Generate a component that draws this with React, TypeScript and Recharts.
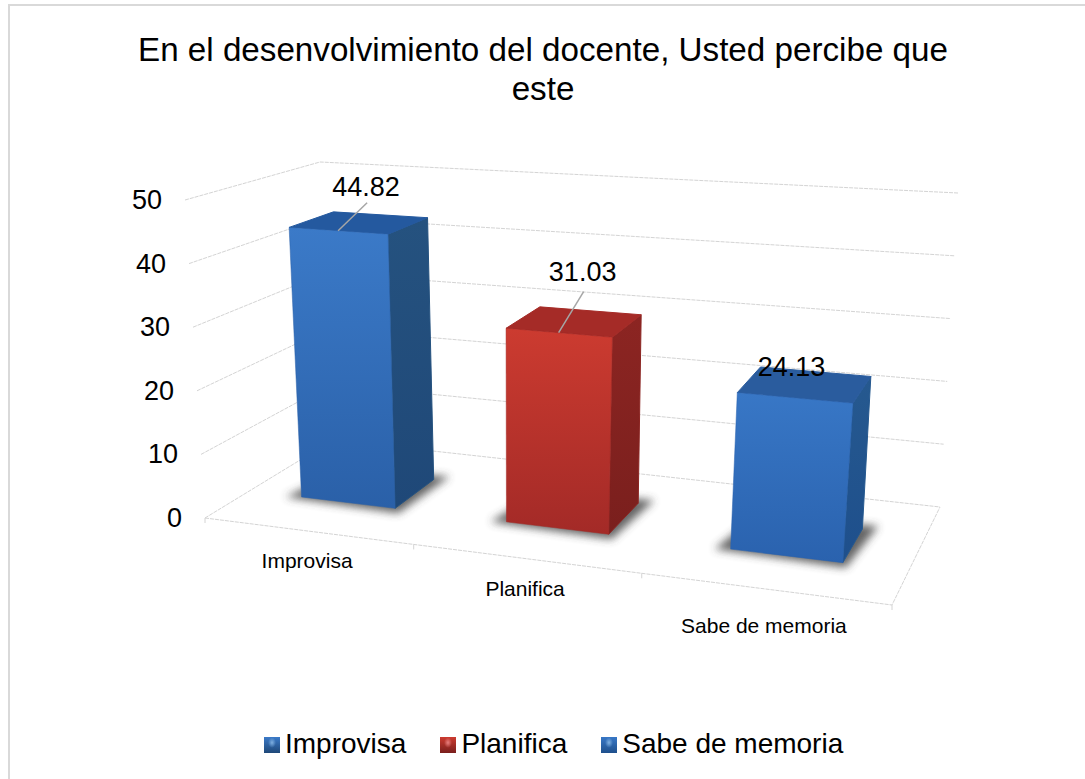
import React from 'react';
import { BarChart, Bar, XAxis, YAxis, CartesianGrid, Legend, LabelList } from 'recharts';

const categories = ['Improvisa', 'Planifica', 'Sabe de memoria'];
const values = [44.82, 31.03, 24.13];
const yTicks = [0, 10, 20, 30, 40, 50];
const titleLines = ['En el desenvolvimiento del docente, Usted percibe que', 'este'];

const chartData = categories.map((name, i) => ({ name, value: values[i] }));

const WIDTH = 1085;
const HEIGHT = 779;
const FONT = '"Liberation Sans", Arial, sans-serif';

// plot box handed to recharts
const PLOT_LEFT = 205;
const PLOT_RIGHT = 892;
const PLOT_TOP = 200;
const PLOT_BOTTOM = 518;
const PLOT_W = PLOT_RIGHT - PLOT_LEFT;
const PLOT_H = PLOT_BOTTOM - PLOT_TOP;
const Y_AXIS_W = 60;
const X_AXIS_H = 30;

// the excel "3d box", corners as seen on screen
const floor = { fl: [205, 518], fr: [892, 605], bl: [333, 440], br: [940, 507] };
const roof = { fl: [185, 200], fr: [922, 250], bl: [320, 162], br: [958, 193] };
const PERSPECTIVE = 1.146;
const BAR_FRONT = 0.35;
const BAR_BACK = 0.7;
const BAR_SQUASH = 0.98;

const palette = [
  { front: ['#3b7ac8', '#2a60a8'], side: ['#25527f', '#1f4878'], top: '#24599f' },
  { front: ['#cc3b30', '#a32a27'], side: ['#8c2522', '#7a1f1d'], top: '#a52b27' },
  { front: ['#3877c6', '#2a62ae'], side: ['#26598f', '#1e4f8c'], top: '#2a5c9e' },
];
const swatchGlow = ['#7fb0e0', '#e88080', '#7fb0e0'];

const labelOffsets = [[28, -44], [24, -61], [-3, -31]];
const leaderStart = [[1, 16], [1, 20], null];
const tickDrop = [30, 30, 37];

const lerp = (a: number, b: number, t: number) => a + (b - a) * t;

const corner = (c: any, u: number, d: number, n: number) =>
  lerp(lerp(c.fl[n], c.fr[n], u), lerp(c.bl[n], c.br[n], u), d);

// u, d, v are 0..1 across the categories, into the depth and up the value axis
const project = (u: number, d: number, v: number) => {
  const up = u / (u + PERSPECTIVE * (1 - u));
  return [
    lerp(corner(floor, up, d, 0), corner(roof, up, d, 0), v),
    lerp(corner(floor, up, d, 1), corner(roof, up, d, 1), v),
  ];
};

const pts = (list: number[][]) => list.map((p) => `${p[0]},${p[1]}`).join(' ');

const toU = (x: number) => (x - PLOT_LEFT) / PLOT_W;
const toV = (y: number) => (PLOT_BOTTOM - y) / PLOT_H;

const GRID = '#d4d4d4';

const WallLine = (props: any) => {
  const v = toV(props.y1);
  return (
    <polyline
      points={pts([project(0, 0, v), project(0, 1, v), project(1, 1, v)])}
      fill="none"
      stroke={GRID}
      strokeWidth={1}
      strokeDasharray="4 1"
    />
  );
};

const Box = (props: any) => {
  const { x, width, height, index } = props;
  const u0 = toU(x);
  const u1 = toU(x + width);
  const v = (height / PLOT_H) * BAR_SQUASH;
  const c = palette[index];
  const a = project(u0, BAR_FRONT, 0);
  const b = project(u1, BAR_FRONT, 0);
  const e = project(u1, BAR_BACK, 0);
  const f = project(u0, BAR_BACK, 0);
  const at = project(u0, BAR_FRONT, v);
  const bt = project(u1, BAR_FRONT, v);
  const et = project(u1, BAR_BACK, v);
  const ft = project(u0, BAR_BACK, v);
  return (
    <g>
      <polygon
        points={pts([
          [a[0] - 16, a[1]],
          [b[0] + 3, b[1] + 5],
          [e[0] + 16, e[1] - 3],
          [f[0], f[1]],
        ])}
        fill="#3e3e3e"
        opacity={0.8}
        filter="url(#baseShadow)"
      />
      <polygon points={pts([b, e, et, bt])} fill={`url(#side${index})`} stroke={c.side[0]} strokeWidth={1} strokeLinejoin="round" />
      <polygon points={pts([at, bt, et, ft])} fill={c.top} stroke={c.top} strokeWidth={1} strokeLinejoin="round" />
      <polygon points={pts([a, b, bt, at])} fill={`url(#front${index})`} stroke={c.front[1]} strokeWidth={0.5} strokeLinejoin="round" />
    </g>
  );
};

const ValueLabel = (props: any) => {
  const { x, width, height, index, value } = props;
  const p = project(toU(x + width / 2), BAR_FRONT, (height / PLOT_H) * BAR_SQUASH);
  const off = labelOffsets[index];
  const cx = p[0] + off[0];
  const cy = p[1] + off[1];
  const lead = leaderStart[index];
  return (
    <g>
      {lead && <line x1={cx + lead[0]} y1={cy + lead[1]} x2={p[0]} y2={p[1]} stroke="#a6a6a6" strokeWidth={1.5} />}
      <text x={cx} y={cy} textAnchor="middle" dominantBaseline="central" fontFamily={FONT} fontSize={27} fill="#000">
        {value}
      </text>
    </g>
  );
};

const ValueTick = (props: any) => {
  const p = project(0, 0, toV(props.y));
  return (
    <text x={p[0] - 23} y={p[1]} textAnchor="end" dominantBaseline="central" fontFamily={FONT} fontSize={27} fill="#000">
      {props.payload.value}
    </text>
  );
};

const CategoryTick = (props: any) => {
  const p = project(toU(props.payload.coordinate), 0, 0);
  return (
    <text x={p[0]} y={p[1] + tickDrop[props.index]} textAnchor="middle" dominantBaseline="central" fontFamily={FONT} fontSize={21} fill="#000">
      {props.payload.value}
    </text>
  );
};

const FloorEdges = () => {
  const marks = [0, 1 / 3, 2 / 3, 1];
  return (
    <g>
      <polyline
        points={pts([project(0, 0, 0), project(1, 0, 0), project(1, 1, 0)])}
        fill="none"
        stroke={GRID}
        strokeWidth={1}
        strokeDasharray="4 1"
      />
      {marks.map((m) => {
        const p = project(m, 0, 0);
        return <line key={m} x1={p[0]} y1={p[1]} x2={p[0]} y2={p[1] + 5} stroke={GRID} strokeWidth={1} />;
      })}
    </g>
  );
};

const LegendRow = () => (
  <div style={{ display: 'flex', alignItems: 'center', marginLeft: 264, fontFamily: FONT, fontSize: 28, lineHeight: '34px', color: '#000' }}>
    {categories.map((name, i) => (
      <div key={name} style={{ display: 'flex', alignItems: 'center', marginLeft: i === 0 ? 0 : 34 }}>
        <span
          style={{
            display: 'inline-block',
            width: 16,
            height: 16,
            marginRight: 5,
            marginTop: 2,
            background: `radial-gradient(ellipse at 50% 35%, ${swatchGlow[i]} 0, transparent 35%), linear-gradient(${palette[i].front[0]}, ${palette[i].side[1]})`,
          }}
        />
        {name}
      </div>
    ))}
  </div>
);

export default function App() {
  return (
    <div style={{ position: 'absolute', left: 0, top: 0, width: WIDTH, height: HEIGHT, background: '#fff', overflow: 'hidden' }}>
      <div style={{ position: 'absolute', left: 8, top: 4, width: WIDTH - 8, height: 2, background: '#d9d9d9' }} />
      <div style={{ position: 'absolute', left: 8, top: 4, width: 2, height: HEIGHT - 4, background: '#d9d9d9' }} />
      <div
        style={{
          position: 'absolute',
          left: 0,
          top: 30,
          width: 1086,
          textAlign: 'center',
          fontFamily: FONT,
          fontSize: 33.2,
          lineHeight: '39px',
          color: '#000',
        }}
      >
        {titleLines.map((t) => (
          <div key={t}>{t}</div>
        ))}
      </div>
      <div style={{ position: 'absolute', left: 0, top: 0 }}>
        <BarChart
          width={WIDTH}
          height={HEIGHT}
          data={chartData}
          barCategoryGap="26.7%"
          margin={{
            top: PLOT_TOP,
            left: PLOT_LEFT - Y_AXIS_W,
            right: WIDTH - PLOT_RIGHT,
            bottom: HEIGHT - PLOT_BOTTOM - X_AXIS_H,
          }}
        >
          <defs>
            <filter id="baseShadow" x="-30%" y="-50%" width="160%" height="200%">
              <feGaussianBlur stdDeviation="4" />
            </filter>
            {palette.map((c, i) => (
              <React.Fragment key={i}>
                <linearGradient id={`front${i}`} x1="0" y1="0" x2="0" y2="1">
                  <stop offset="0%" stopColor={c.front[0]} />
                  <stop offset="100%" stopColor={c.front[1]} />
                </linearGradient>
                <linearGradient id={`side${i}`} x1="0" y1="0" x2="0" y2="1">
                  <stop offset="0%" stopColor={c.side[0]} />
                  <stop offset="100%" stopColor={c.side[1]} />
                </linearGradient>
              </React.Fragment>
            ))}
          </defs>
          <CartesianGrid vertical={false} horizontal={(p: any) => <WallLine key={p.index} {...p} />} />
          <FloorEdges />
          <XAxis dataKey="name" height={X_AXIS_H} axisLine={false} tickLine={false} tick={CategoryTick} interval={0} />
          <YAxis width={Y_AXIS_W} domain={[0, 50]} ticks={yTicks} axisLine={false} tickLine={false} tick={ValueTick} />
          <Legend
            layout="horizontal"
            verticalAlign="middle"
            align="center"
            content={LegendRow}
            wrapperStyle={{ left: 0, top: 727, width: WIDTH }}
          />
          <Bar dataKey="value" shape={Box} isAnimationActive={false}>
            <LabelList dataKey="value" content={ValueLabel} />
          </Bar>
        </BarChart>
      </div>
    </div>
  );
}
